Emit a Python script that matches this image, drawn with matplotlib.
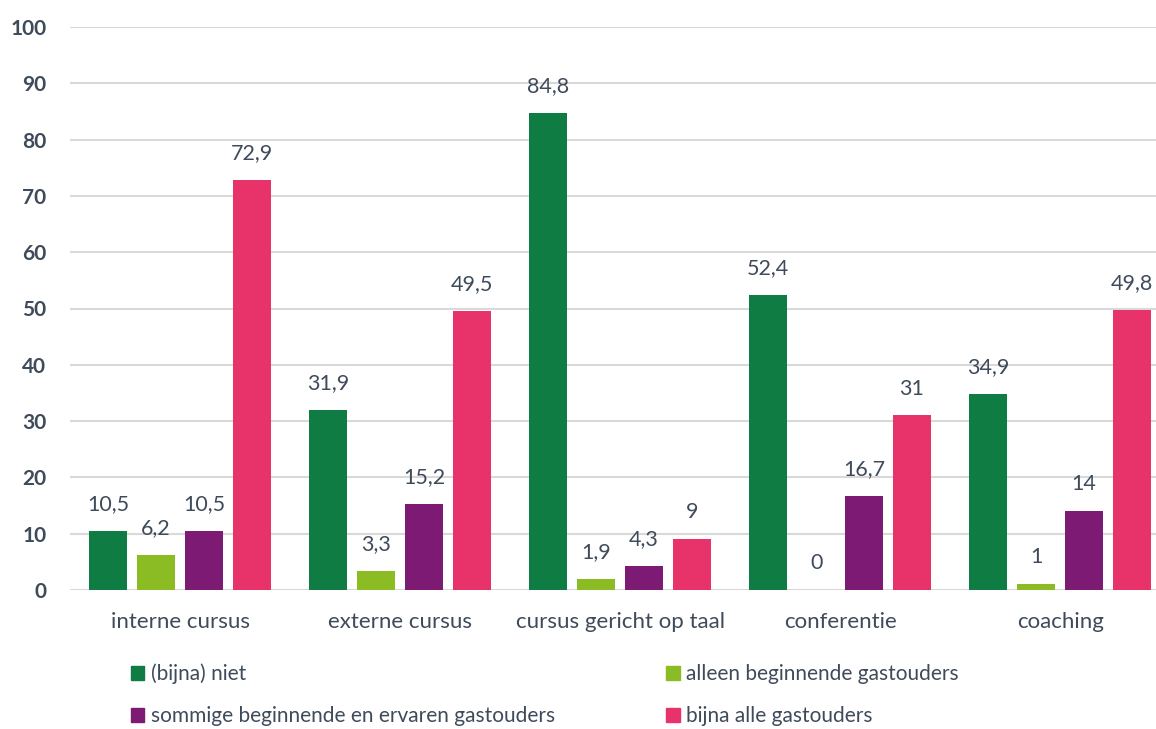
import numpy as np
import matplotlib.pyplot as plt
from matplotlib.patches import Patch

categories = ["interne cursus", "externe cursus", "cursus gericht op taal", "conferentie", "coaching"]
series_names = ["(bijna) niet", "alleen beginnende gastouders",
                "sommige beginnende en ervaren gastouders", "bijna alle gastouders"]
niet = [10.5, 31.9, 84.8, 52.4, 34.9]
alleen_beginnend = [6.2, 3.3, 1.9, 0, 1]
sommige = [10.5, 15.2, 4.3, 16.7, 14]
bijna_alle = [72.9, 49.5, 9, 31, 49.8]

colors = ["#0E7C43", "#8CBC23", "#7D1A73", "#E8336A"]
text_color = "#3F4B5B"

plt.rcParams['font.family'] = ['Lato', 'DejaVu Sans']

fig = plt.figure(figsize=(11.56, 7.29), dpi=100)
ax = fig.add_axes([70 / 1156, 139 / 729, 1 - 70 / 1156, 563 / 729])

x = np.arange(len(categories))
step = 0.218
width = 0.173
all_series = [niet, alleen_beginnend, sommige, bijna_alle]
for i, (vals, col) in enumerate(zip(all_series, colors)):
    pos = x + (i - 1.5) * step
    bars = ax.bar(pos, vals, width, color=col, zorder=3)
    for b, v in zip(bars, vals):
        label = ("%g" % v).replace(".", ",")
        ax.text(b.get_x() + b.get_width() / 2, v + 3.0, label, ha="center", va="bottom",
                fontsize=15.5, color=text_color)

ax.set_ylim(0, 100)
ax.set_xlim(-0.5, 4.436)
ax.set_yticks(range(0, 101, 10))
ax.yaxis.grid(True, color="#D9D9D9", linewidth=1.5, zorder=0)
ax.set_xticks(x)
ax.set_xticklabels(categories, fontsize=16)
ax.tick_params(axis="both", length=0, colors=text_color)
ax.tick_params(axis="x", pad=16)
ax.tick_params(axis="y", pad=17, labelsize=15)
for lbl in ax.get_yticklabels():
    lbl.set_fontweight("bold")
for s in ax.spines.values():
    s.set_visible(False)

handles = [Patch(color=c) for c in colors]
fig.legend([handles[0], handles[2], handles[1], handles[3]],
           [series_names[0], series_names[2], series_names[1], series_names[3]],
           ncol=2, loc="lower left", bbox_to_anchor=(112 / 1156, -0.022), frameon=False,
           fontsize=15, labelcolor=text_color, handlelength=0.65, handleheight=0.65,
           handletextpad=0.3, columnspacing=5.35, labelspacing=1.05)

fig.savefig("out.png", dpi=100)
